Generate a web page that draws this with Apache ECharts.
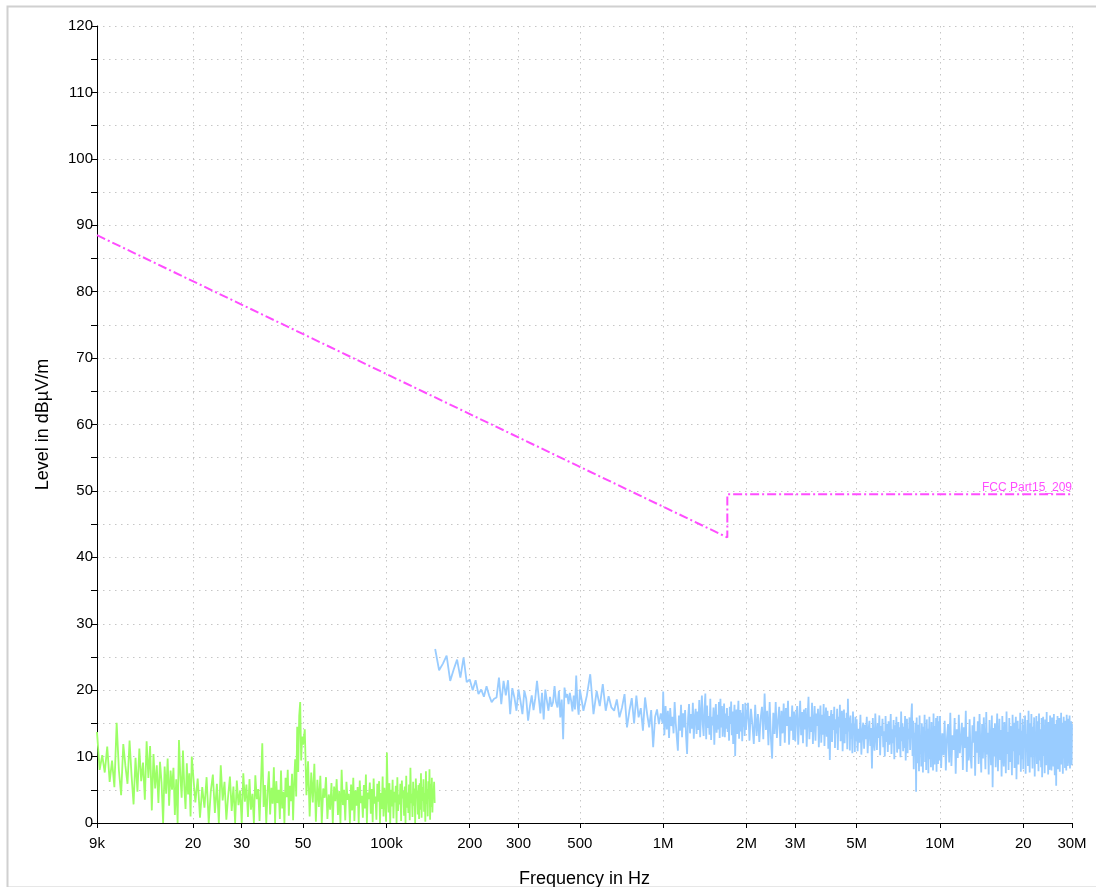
<!DOCTYPE html>
<html><head><meta charset="utf-8">
<script src="https://cdn.jsdelivr.net/npm/echarts@6/dist/echarts.min.js"></script>
<style>html,body{margin:0;padding:0;background:#fff}#chart{width:1096px;height:887px}</style>
</head><body><div id="chart"></div>
<script>
// ---- axis ticks ----
const xTickValues = [9000, 20000, 30000, 50000, 100000, 200000, 300000, 500000, 1000000, 2000000, 3000000, 5000000, 10000000, 20000000, 30000000];
const xTickLabels = ['9k', '20', '30', '50', '100k', '200', '300', '500', '1M', '2M', '3M', '5M', '10M', '20', '30M'];

// ---- limit line FCC Part15_209 ----
const limitFreqHz = [9000, 490000, 1705000, 1705000, 30000000];
const limitLevel = [88.5, 53.8, 43.0, 49.5, 49.5];
const limitName = 'FCC Part15_209';

// ---- green trace (9 kHz - 150 kHz), sweep segments ----
const greenSegStartHz = [9000, 20000, 50000];
const greenSegStepHz = [200, 400, 700];
const greenSeg1 = [13.7, 8.0, 10.2, 7.6, 11.5, 6.2, 9.4, 5.4, 15.1, 7.9,
  4.2, 11.9, 8.6, 5.9, 12.4, 7.1, 2.8, 9.8, 4.7, 11.2,
  6.3, 9.1, 3.5, 12.3, 6.8, 11.6, 1.9, 10.4, 5.2, 8.7,
  3.0, 9.2, 6.1, 0.0, 8.5, 4.4, 9.7, 2.6, 7.9, 5.0,
  8.3, 1.2, 6.6, 0.0, 12.5, 7.2, 3.8, 10.9, 5.6, 2.1,
  9.0, 4.3, 7.5, 1.0, 10.0];
const greenSeg2 = [9.8, 3.1, 6.7, 0.8, 5.4, 2.3, 6.9, 0.0, 4.8, 7.3,
  1.5, 5.9, 0.0, 8.7, 3.4, 6.2, 0.5, 4.1, 7.0, 1.8,
  5.5, 0.0, 6.4, 2.7, 4.9, 0.0, 7.5, 3.2, 5.8, 0.9,
  6.6, 2.0, 4.4, 0.0, 7.2, 3.6, 5.1, 0.3, 6.0, 12.0,
  2.4, 5.7, 0.0, 4.6, 7.8, 1.3, 5.3, 2.9, 8.4, 0.0,
  6.3, 3.0, 5.0, 0.6, 7.9, 2.2, 4.7, 0.0, 6.8, 3.9,
  8.0, 1.1, 5.6, 3.3, 7.4, 0.4, 6.1, 9.6, 4.0, 14.5,
  7.7, 16.1, 18.2, 9.4, 13.0];
const greenSeg3 = [11.8, 14.1, 4.2, 9.3, 1.0, 7.6, 3.1, 8.9, 0.2, 6.5,
  2.4, 7.1, 0.0, 5.2, 3.8, 6.9, 0.6, 4.3, 2.0, 6.0,
  0.0, 5.5, 3.3, 6.6, 1.2, 4.8, 0.0, 8.0, 2.7, 5.0,
  0.4, 6.2, 3.5, 4.4, 0.0, 5.8, 1.9, 6.8, 0.3, 4.9,
  2.6, 5.4, 0.0, 6.4, 3.0, 4.1, 0.8, 5.7, 2.2, 7.3,
  0.0, 4.6, 3.6, 6.1, 1.4, 5.1, 0.1, 6.7, 2.9, 4.0,
  0.5, 5.9, 3.2, 6.3, 0.0, 4.5, 2.1, 7.0, 1.0, 5.3,
  3.4, 0.2, 10.6, 4.2, 1.6, 6.0, 0.0, 5.0, 2.5, 6.5,
  0.7, 4.7, 3.1, 5.6, 0.0, 6.9, 1.8, 4.3, 2.8, 5.9,
  0.3, 6.4, 3.7, 4.8, 1.1, 5.5, 0.0, 7.1, 2.3, 4.6,
  1.5, 5.8, 0.4, 8.3, 3.0, 4.4, 0.9, 6.2, 2.6, 5.2,
  0.0, 6.7, 3.9, 4.9, 1.3, 5.7, 0.6, 6.0, 2.0, 7.5,
  0.8, 5.4, 3.3, 6.6, 1.7, 4.5, 0.2, 7.8, 2.9, 5.1,
  1.0, 6.3, 3.6, 8.1, 0.5, 5.9, 2.4, 6.8, 1.6, 5.0,
  4.1, 6.2, 3.0];

// ---- blue trace (150 kHz - 30 MHz), sweep segments ----
const blueSegStartHz = [150000, 500000, 1000000, 2000000, 5000000, 10000000];
const blueSegStepHz = [5000, 15000, 10000, 25000, 40000, 100000];
const blueSeg1 = [26.2, 23.0, 24.0, 25.2, 21.4, 23.1, 24.6, 21.9, 24.9, 21.2,
  21.6, 20.0, 21.5, 19.4, 20.1, 19.0, 20.6, 19.2, 18.2, 18.7,
  18.9, 21.9, 17.9, 21.4, 19.2, 21.5, 16.4, 20.3, 18.9, 16.9,
  20.1, 18.4, 16.4, 19.9, 18.7, 15.4, 17.6, 19.2, 17.0, 18.8,
  21.4, 18.9, 16.5, 19.6, 15.6, 20.1, 18.4, 16.9, 19.0, 17.5,
  18.2, 20.6, 18.2, 17.4, 19.9, 15.9, 18.6, 12.6, 20.4, 18.9,
  19.4, 17.9, 19.6, 18.4, 16.8, 19.2, 17.1, 22.2, 18.0, 16.3];
const blueSeg2 = [20.1, 16.9, 19.2, 22.4, 16.4, 19.9, 17.6, 20.9, 16.9, 19.1,
  17.4, 16.9, 18.6, 15.9, 17.4, 19.4, 14.4, 16.9, 18.8, 15.0,
  19.2, 15.9, 17.3, 13.9, 18.9, 16.4, 14.4, 17.0, 11.4, 16.0,
  17.1, 14.9, 16.5, 15.0];
const blueSeg3 = [19.8, 13.2, 17.6, 14.1, 16.9, 12.8, 17.3, 14.6, 16.0, 13.5,
  18.2, 15.1, 12.9, 10.9, 16.2, 13.9, 17.8, 12.9, 16.5, 14.4,
  17.0, 13.0, 10.4, 15.8, 17.9, 13.5, 16.4, 14.2, 18.1, 12.7,
  15.9, 17.2, 13.4, 16.8, 14.0, 18.5, 12.9, 16.6, 19.2, 14.8,
  13.1, 17.2, 19.5, 12.6, 17.7, 14.3, 16.1, 13.3, 18.7, 12.5,
  16.0, 14.7, 17.4, 11.8, 15.9, 17.9, 13.6, 16.3, 14.1, 18.2,
  12.8, 18.7, 14.4, 17.6, 13.0, 15.8, 18.0, 12.9, 16.5, 14.2,
  17.3, 13.7, 16.1, 12.4, 17.5, 14.9, 18.3, 13.2, 16.8, 11.9,
  15.6, 17.8, 10.1, 14.6, 17.1, 13.4, 16.2, 18.4, 12.7, 15.3,
  17.0, 13.8, 16.6, 12.3, 17.9, 14.5, 16.0, 13.1, 18.1, 14.0];
const blueSeg4 = [13.8, 18.1, 12.4, 17.2, 14.9, 11.9, 17.8, 13.1, 16.4, 12.2,
  15.8, 17.5, 12.6, 19.5, 14.0, 16.9, 11.7, 18.2, 12.8, 9.7,
  16.6, 13.4, 18.2, 12.8, 15.4, 17.5, 11.6, 16.9, 13.5, 18.0,
  12.1, 17.3, 14.6, 18.4, 11.8, 16.0, 13.9, 17.7, 12.5, 16.8,
  12.3, 16.2, 17.6, 11.8, 15.1, 18.4, 13.2, 16.7, 12.0, 17.1,
  14.1, 17.3, 11.5, 15.8, 19.0, 12.6, 16.0, 13.7, 18.1, 11.9,
  15.2, 17.6, 12.4, 16.5, 14.6, 17.2, 11.4, 15.5, 17.7, 12.1,
  16.3, 13.3, 17.9, 11.6, 15.0, 17.4, 13.0, 16.9, 11.2, 16.1,
  9.5, 15.7, 17.0, 12.2, 16.4, 14.0, 17.5, 11.3, 15.6, 13.5,
  17.2, 11.0, 16.0, 14.4, 17.8, 12.3, 15.3, 16.9, 10.8, 14.7,
  17.1, 12.0, 15.8, 13.4, 16.6, 11.1, 18.7, 13.8, 15.9, 10.9,
  16.2, 12.7, 15.0, 10.5, 16.8, 13.6, 14.9, 10.7, 16.0, 12.4];
const blueSeg5 = [15.6, 10.8, 14.2, 12.1, 16.3, 10.3, 13.7, 15.1, 11.2, 14.8,
  12.6, 16.0, 10.5, 13.9, 15.4, 11.6, 14.3, 8.2, 15.8, 12.4,
  10.9, 16.5, 13.2, 11.0, 15.0, 12.8, 16.2, 10.2, 14.6, 13.1,
  15.7, 11.4, 13.8, 10.0, 16.1, 12.2, 14.9, 10.7, 15.3, 11.8,
  13.4, 16.4, 10.4, 14.1, 12.0, 15.5, 9.6, 14.7, 12.9, 16.0,
  10.6, 13.6, 15.2, 11.1, 14.4, 9.9, 16.8, 12.3, 15.0, 10.8,
  14.5, 11.3, 16.1, 9.4, 13.9, 15.7, 10.5, 14.2, 12.6, 15.9,
  11.0, 13.8, 16.2, 18.0, 10.1,
  15.4, 8.1, 13.6, 11.2, 15.1, 4.7, 15.9, 9.0, 12.7, 14.8,
  7.8, 16.2, 10.4, 13.1, 8.5, 15.0, 11.7, 7.6, 14.5, 12.0,
  16.3, 9.2, 13.8, 8.0, 15.6, 11.0, 14.2, 7.5, 12.9, 16.0,
  9.6, 13.3, 8.4, 15.2, 10.8, 14.0, 7.9, 16.5, 11.5, 8.8,
  14.6, 10.1, 15.8, 7.7, 13.4, 16.1, 8.9, 12.5, 15.3, 9.4];
const blueSeg6 = [16.1, 8.3, 13.5, 10.2, 15.4, 7.9, 12.8, 14.9, 9.1, 16.6,
  8.6, 13.2, 11.0, 15.8, 7.4, 14.1, 9.8, 16.3, 10.5, 12.6,
  15.1, 8.0, 14.4, 11.3, 16.9, 7.7, 13.0, 9.4, 15.6, 10.1,
  8.2, 14.7, 12.1, 16.0, 7.1, 13.8, 10.6, 15.3, 8.9, 16.4,
  11.5, 7.6, 14.9, 9.7, 15.9, 12.4, 8.1, 16.7, 10.3, 13.6,
  7.3, 15.5, 11.8, 8.7, 16.2, 5.4, 14.3, 10.0, 15.0, 8.4,
  13.1, 16.5, 7.8, 12.2, 15.7, 9.5, 14.0, 7.0, 16.1, 11.1,
  8.5, 15.2, 12.9, 7.5, 16.8, 10.4, 13.7, 8.0, 15.8, 9.2,
  14.6, 11.6, 7.2, 16.3, 10.8, 15.1, 8.3, 13.3, 16.0, 6.6,
  12.5, 15.4, 8.8, 14.2, 10.2, 16.6, 7.7, 13.9, 9.6, 15.7,
  8.1, 14.8, 11.9, 16.2, 7.4, 13.4, 10.7, 15.5, 8.6, 16.9,
  12.0, 7.6, 15.0, 9.9, 16.4, 11.4, 8.2, 14.5, 12.7, 15.9,
  7.0, 13.6, 10.3, 16.1, 8.9, 15.3, 11.7, 7.8, 16.5, 9.4,
  14.1, 12.3, 8.4, 15.8, 6.9, 13.0, 16.0, 10.1, 14.7, 7.5,
  15.6, 11.2, 8.7, 16.7, 10.6, 13.8, 7.3, 15.2, 12.6, 8.0,
  16.2, 9.8, 14.4, 7.9, 15.9, 11.5, 13.2, 8.5, 16.4, 10.0,
  7.2, 14.9, 12.2, 5.6, 15.5, 9.3, 16.1, 8.1, 13.7, 11.0,
  15.8, 7.7, 14.0, 10.5, 16.6, 8.8, 12.8, 15.1, 7.4, 13.5,
  16.0, 9.7, 14.6, 8.3, 15.4, 11.8, 7.9, 16.3, 10.9, 13.9,
  8.6, 15.7, 12.1, 9.0, 16.2, 8.2, 14.8, 10.4, 15.3, 8.7,
  14.9];

// ---- build series data (sweep grid: start + i * step) ----
function buildSweep(starts, steps, segs) {
  const out = [];
  segs.forEach(function (vals, s) {
    vals.forEach(function (v, i) { out.push([starts[s] + i * steps[s], v]); });
  });
  return out;
}
const greenData = buildSweep(greenSegStartHz, greenSegStepHz, [greenSeg1, greenSeg2, greenSeg3]);
const blueData = buildSweep(blueSegStartHz, blueSegStepHz, [blueSeg1, blueSeg2, blueSeg3, blueSeg4, blueSeg5, blueSeg6]);
const limitData = limitFreqHz.map(function (f, i) { return [f, limitLevel[i]]; });
limitData[limitData.length - 1] = {
  value: limitData[limitData.length - 1],
  label: { show: true, formatter: limitName, position: 'top', align: 'right', distance: 1,
    color: '#ff4dff', fontSize: 12, fontFamily: 'Liberation Sans' }
};

function xLabel(v) {
  for (let i = 0; i < xTickValues.length; i++) {
    if (Math.abs(v - xTickValues[i]) / xTickValues[i] < 1e-6) return xTickLabels[i];
  }
  return '';
}

const gridLine = { show: true, lineStyle: { color: '#c6c6c6', width: 1, type: [1.5, 4.5] } };
const chart = echarts.init(document.getElementById('chart'), null, { renderer: 'canvas' });
chart.setOption({
  animation: false,
  backgroundColor: '#ffffff',
  textStyle: { fontFamily: 'Liberation Sans' },
  graphic: [{
    type: 'rect', left: 5, top: 4, z: -10,
    shape: { width: 1100, height: 881 },
    style: { fill: 'none', stroke: '#d0d0d0', lineWidth: 2 }
  }],
  grid: { left: 97, right: 24, top: 26, bottom: 64, containLabel: false, outerBoundsMode: 'none' },
  xAxis: {
    type: 'log', logBase: 10, min: 9000, max: 30000000,
    name: 'Frequency in Hz', nameLocation: 'middle', nameGap: 47,
    nameTextStyle: { fontSize: 18, color: '#000', fontFamily: 'Liberation Sans' },
    axisLine: { show: true, lineStyle: { color: '#000', width: 1 } },
    axisTick: { show: true, customValues: xTickValues, length: 5, lineStyle: { color: '#000' } },
    axisLabel: { show: true, customValues: xTickValues, formatter: xLabel, fontSize: 15, color: '#000', margin: 13, fontFamily: 'Liberation Sans' },
    splitLine: gridLine,
    minorTick: { show: false },
    minorSplitLine: { show: false }
  },
  yAxis: {
    type: 'value', min: 0, max: 120, interval: 10,
    name: 'Level in dB\u00B5V/m', nameLocation: 'middle', nameGap: 45,
    nameTextStyle: { fontSize: 18, color: '#000', fontFamily: 'Liberation Sans' },
    axisLine: { show: true, lineStyle: { color: '#000', width: 1 } },
    axisTick: { show: true, length: 6, lineStyle: { color: '#000' } },
    minorTick: { show: true, splitNumber: 2, length: 6, lineStyle: { color: '#000' } },
    axisLabel: { fontSize: 15, color: '#000', margin: 4, fontFamily: 'Liberation Sans' },
    splitLine: gridLine,
    minorSplitLine: gridLine
  },
  series: [
    { name: 'green', type: 'line', data: greenData, showSymbol: false, symbol: 'none', sampling: null,
      lineStyle: { color: '#9cff66', width: 1.8 }, itemStyle: { color: '#9cff66' }, z: 3, silent: true },
    { name: 'blue', type: 'line', data: blueData, showSymbol: false, symbol: 'none', sampling: null,
      lineStyle: { color: '#99ccff', width: 1.8 }, itemStyle: { color: '#99ccff' }, z: 3, silent: true },
    { name: limitName, type: 'line', data: limitData, showSymbol: true, symbol: 'circle', symbolSize: 0,
      lineStyle: { color: '#ff4dff', width: 2, type: [9, 3, 2, 3] }, itemStyle: { color: '#ff4dff' }, z: 4, silent: true }
  ]
});
</script></body></html>
